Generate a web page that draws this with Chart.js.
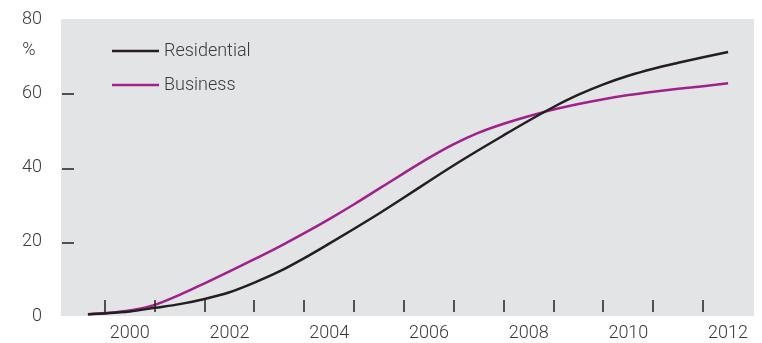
<!DOCTYPE html>
<html>
<head>
<meta charset="utf-8">
<script src="https://cdn.jsdelivr.net/npm/chart.js@4.4.1/dist/chart.umd.min.js"></script>
<style>
  html, body { margin: 0; padding: 0; background: #fff; }
  #wrap { width: 762px; height: 343px; }
</style>
</head>
<body>
<div id="wrap"><canvas id="chart" width="762" height="343"></canvas></div>
<script>
// years (fractional), values in %
const years = [1999.16, 1999.5, 2000, 2000.5, 2001, 2001.5, 2002, 2002.5, 2003, 2003.5,
  2004, 2004.5, 2005, 2005.5, 2006, 2006.5, 2007, 2007.5, 2008, 2008.5,
  2009, 2009.5, 2010, 2010.5, 2011, 2011.5, 2012]
const residential = [0.5, 0.7, 1.2, 2.2, 3.2, 4.6, 6.4, 9.0, 12.0, 15.6,
  19.5, 23.5, 27.6, 31.9, 36.3, 40.6, 44.7, 48.7, 52.6, 56.3,
  59.6, 62.4, 64.7, 66.6, 68.2, 69.7, 71.1]
const business = [0.5, 0.8, 1.5, 3.0, 5.7, 8.8, 12.0, 15.3, 18.7, 22.3,
  26.1, 30.1, 34.3, 38.5, 42.6, 46.3, 49.4, 51.8, 53.8, 55.6,
  57.1, 58.4, 59.5, 60.4, 61.2, 61.9, 62.7]
const labelYears = [2000, 2002, 2004, 2006, 2008, 2010, 2012]
const tickMarks = [1999.5, 2000.5, 2001.5, 2002.5, 2003.5, 2004.5, 2005.5,
  2006.5, 2007.5, 2008.5, 2009.5, 2010.5, 2011.5]
const yTicks = [0, 20, 40, 60, 80]

const textColor = '#3a3a3a'
const fontFamily = 'Roboto, "Open Sans", sans-serif'

const toPoints = (vals) => vals.map((v, i) => ({ x: years[i], y: v }))

// grey plot background, inner tick marks, legend and % label
const decor = {
  id: 'decor',
  beforeDraw(chart) {
    const { ctx, chartArea: a } = chart
    ctx.save()
    ctx.fillStyle = '#e3e4e6'
    ctx.fillRect(a.left, a.top, a.right - a.left, a.bottom - a.top)
    ctx.restore()
  },
  afterDatasetsDraw(chart) {
    const { ctx, chartArea: a, scales } = chart
    ctx.save()
    ctx.strokeStyle = '#231f20'
    ctx.lineWidth = 1.5
    tickMarks.forEach(t => {
      const x = Math.round(scales.x.getPixelForValue(t))
      ctx.beginPath()
      ctx.moveTo(x, a.bottom - 16)
      ctx.lineTo(x, a.bottom - 4)
      ctx.stroke()
    })
    ;[20, 40, 60].forEach(v => {
      const y = Math.round(scales.y.getPixelForValue(v)) + 1
      ctx.beginPath()
      ctx.moveTo(a.left + 1, y)
      ctx.lineTo(a.left + 13, y)
      ctx.stroke()
    })

    // legend
    ctx.font = '300 18px ' + fontFamily
    ctx.textBaseline = 'middle'
    ctx.textAlign = 'left'
    chart.data.datasets.forEach((ds, i) => {
      const y = a.top + 32 + i * 34
      ctx.strokeStyle = ds.borderColor
      ctx.lineWidth = 2.5
      ctx.beginPath()
      ctx.moveTo(a.left + 51, y)
      ctx.lineTo(a.left + 98, y)
      ctx.stroke()
      ctx.fillStyle = textColor
      ctx.fillText(ds.label, a.left + 103, y)
    })

    // unit label under the top tick
    ctx.textAlign = 'center'
    ctx.fillText('%', 29, scales.y.getPixelForValue(80) + 31)
    ctx.restore()
  }
}

new Chart(document.getElementById('chart'), {
  type: 'line',
  data: {
    datasets: [{
      label: 'Residential',
      data: toPoints(residential),
      borderColor: '#231f20',
      borderWidth: 2.5,
      pointRadius: 0,
      cubicInterpolationMode: 'monotone'
    }, {
      label: 'Business',
      data: toPoints(business),
      borderColor: '#a0218c',
      borderWidth: 2.5,
      pointRadius: 0,
      cubicInterpolationMode: 'monotone'
    }]
  },
  options: {
    responsive: false,
    animation: false,
    layout: { padding: { top: 19, right: 8, left: 0, bottom: 0 } },
    plugins: {
      legend: { display: false },
      tooltip: { enabled: false }
    },
    scales: {
      x: {
        type: 'linear',
        min: 1998.62,
        max: 2012.52,
        grid: { display: false, drawTicks: false },
        border: { display: false },
        afterFit: s => { s.height = 27 },
        afterBuildTicks: s => { s.ticks = labelYears.map(v => ({ value: v })) },
        ticks: {
          padding: 7,
          color: textColor,
          font: { family: fontFamily, size: 18, weight: 300 },
          maxRotation: 0,
          autoSkip: false,
          callback: v => String(v)
        }
      },
      y: {
        min: 0,
        max: 80,
        // grid hidden, tickLength only used to offset the labels
        grid: { display: false, drawTicks: true, tickLength: 19 },
        border: { display: false },
        afterFit: s => { s.width = 61 },
        afterBuildTicks: s => { s.ticks = yTicks.map(v => ({ value: v })) },
        ticks: {
          padding: 0,
          color: textColor,
          font: { family: fontFamily, size: 18, weight: 300 },
          callback: v => String(v)
        }
      }
    }
  },
  plugins: [decor]
})
</script>
</body>
</html>
